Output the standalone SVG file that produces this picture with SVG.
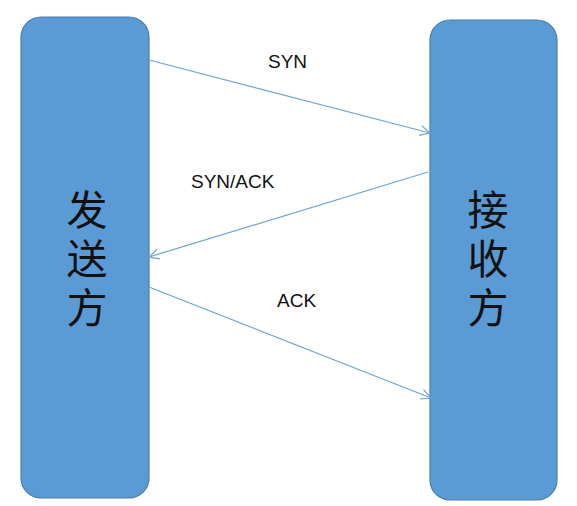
<svg xmlns="http://www.w3.org/2000/svg" width="577" height="506" viewBox="0 0 577 506">
<style>
.box{fill:#5B9BD5;stroke:#4A7EB0;stroke-width:1.2}
.lbl{font-family:"Liberation Sans","Noto Sans CJK SC",sans-serif;font-size:19px;fill:#111}
.cjk{font-family:"Noto Sans CJK SC","Noto Sans CJK JP",sans-serif;font-size:41px;fill:#111;text-anchor:middle;writing-mode:vertical-rl;letter-spacing:8px}
.conn{stroke:#6FA3D8;stroke-width:1.2;fill:none;marker-end:url(#arr)}
</style>
<defs>
<marker id="arr" viewBox="0 0 12 12" refX="11" refY="6" markerWidth="12" markerHeight="12" markerUnits="userSpaceOnUse" orient="auto">
<path d="M1,1 L11,6 L1,11" fill="none" stroke="#6FA3D8" stroke-width="1.2"/>
</marker>
</defs>
<g id="sender">
<rect class="box" x="21" y="17" width="128" height="481" rx="20" ry="20"/>
<text class="cjk" x="87" y="262">发送方</text>
</g>
<g id="receiver">
<rect class="box" x="430" y="20" width="127" height="480" rx="20" ry="20"/>
<text class="cjk" x="488" y="262">接收方</text>
</g>
<g id="connectors">
<line class="conn" x1="149" y1="60" x2="430" y2="133"/>
<line class="conn" x1="428" y1="172" x2="149" y2="257"/>
<line class="conn" x1="149" y1="287" x2="431" y2="398"/>
</g>
<g id="labels">
<text class="lbl" x="268" y="68">SYN</text>
<text class="lbl" x="191" y="188">SYN/ACK</text>
<text class="lbl" x="277" y="307">ACK</text>
</g>
</svg>
